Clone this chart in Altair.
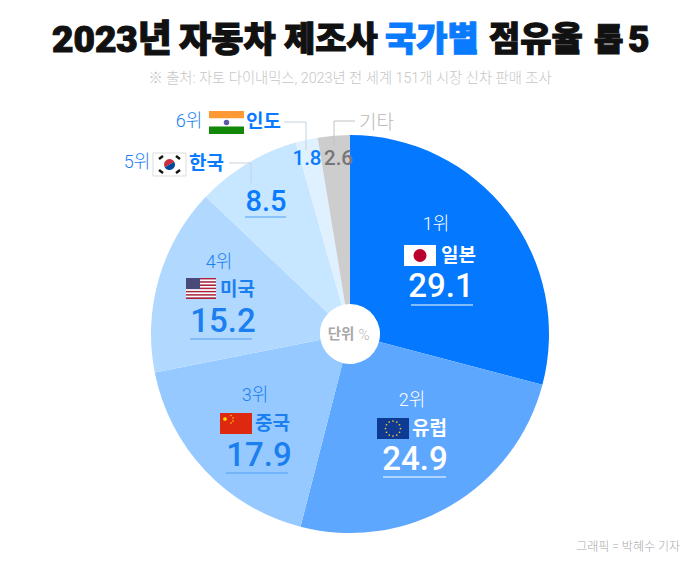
import altair as alt
import pandas as pd
import math

names = ["일본", "유럽", "중국", "미국", "한국", "인도", "기타"]
shares = [29.1, 24.9, 17.9, 15.2, 8.5, 1.8, 2.6]
ranks = ["1위", "2위", "3위", "4위", "5위", "6위", ""]
slice_colors = ["#0478fe", "#5ea7ff", "#96c9ff", "#b1d8ff", "#c7e6ff", "#dff1ff", "#cdcdcd"]
title_words = ["2023년", "자동차", "제조사", "국가별", "점유율", "톱", "5"]
source_note = "※ 출처: 자토 다이내믹스, 2023년 전 세계 151개 시장 신차 판매 조사"
credit = "그래픽 = 박혜수 기자"
unit_word, unit_sign = "단위", "%"

FONT = "Roboto, 'Noto Sans CJK KR'"
BLUE = "#0a7bff"
layers = []


def px(v):
    return alt.value(v - 8)


def txt(t, x, y, size, color, weight=400, align="center", stroke=None, sw=0, font=FONT):
    kw = dict(fontSize=size, font=font, fontWeight=weight, align=align, baseline="middle", color=color)
    if stroke:
        kw.update(stroke=stroke, strokeWidth=sw)
    layers.append(alt.Chart(pd.DataFrame({"a": [0]})).mark_text(**kw).encode(text=alt.value(t), x=px(x), y=px(y)))


def rect(x0, y0, x1, y1, color, **kw):
    layers.append(alt.Chart(pd.DataFrame({"a": [0]})).mark_rect(color=color, **kw).encode(x=px(x0), x2=px(x1), y=px(y0), y2=px(y1)))


def line(x0, y0, x1, y1, color, width=1):
    layers.append(alt.Chart(pd.DataFrame({"a": [0]})).mark_rule(color=color, strokeWidth=width).encode(x=px(x0), x2=px(x1), y=px(y0), y2=px(y1)))


def dot(x, y, size, color, shape="circle"):
    layers.append(alt.Chart(pd.DataFrame({"a": [0]})).mark_point(filled=True, opacity=1, color=color, size=size, shape=shape, strokeWidth=0).encode(x=px(x), y=px(y)))


# pie
pie_df = pd.DataFrame({"name": names, "share": shares, "order": range(len(names))})
layers.append(
    alt.Chart(pie_df).mark_arc(outerRadius=199, innerRadius=30).encode(
        theta=alt.Theta("share:Q", stack=True, scale=alt.Scale(range=[0, 2 * math.pi])),
        order=alt.Order("order:Q"),
        color=alt.Color("name:N", scale=alt.Scale(domain=names, range=slice_colors), legend=None),
        x=px(350), y=px(334),
    )
)

# title, word by word
title_left = [52, 179, 284, 385, 489, 594, 628]
title_size = [37, 35, 34, 34, 34, 32, 37]
for i, (word, left, size) in enumerate(zip(title_words, title_left, title_size)):
    c = BLUE if i == 3 else "#111111"
    txt(word, left, 41, size, c, 900, "left", c, 1.1)
txt(source_note, 350, 79, 14.3, "#c6c6c6", 300)
txt(credit, 680, 547, 12, "#a9a9a9", 300, "right")

# main labels
W = "#ffffff"
M = "#1b7ff0"
NUM = 33
# Japan
txt(ranks[0], 436, 225, 18, W, 300)
rect(404, 245, 436, 266, W)
dot(420, 255.5, 170, "#bc002d")
txt(names[0], 441, 256, 19, W, 700, "left")
txt(str(shares[0]), 441, 287, NUM, W, 500)
line(411, 305, 473, 305, W)
# Europe
txt(ranks[1], 412, 401, 18, W, 300)
rect(377, 418, 409, 439, "#0f3a94")
for i in range(12):
    a = 2 * math.pi * i / 12
    dot(393 + 7.5 * math.cos(a), 428.5 + 7.5 * math.sin(a), 3, "#f3c92a")
txt(names[1], 412, 429, 19, W, 700, "left")
txt(str(shares[1]), 415, 460, NUM, W, 500)
line(383, 477, 446, 477, W)
# China
txt(ranks[2], 255, 396, 18, M, 300)
rect(220, 413, 252, 434, "#de2910")
dot(225, 419, 14, "#ffde00")
for dx, dy in [(231, 415.5), (233, 418), (233, 421), (231, 423)]:
    dot(dx, dy, 2.5, "#ffde00")
txt(names[2], 255, 424, 19, M, 700, "left")
txt(str(shares[2]), 259, 456, NUM, M, 500)
line(226, 473, 288, 473, "#4f9ff5")
# USA
txt(ranks[3], 219, 263, 18, M, 300)
for i in range(13):
    rect(186, 278 + i * 21 / 13, 216, 278 + (i + 1) * 21 / 13, "#b22234" if i % 2 == 0 else "#ffffff")
rect(186, 278, 200, 289, "#4a4a7a")
txt(names[3], 220, 290, 19, M, 700, "left")
txt(str(shares[3]), 223, 322, NUM, M, 500)
line(190, 339, 252, 339, "#4f9ff5")
# Korea
txt(ranks[4], 137, 163, 18, M, 300)
rect(153, 153, 186, 176, W, stroke="#dddddd", strokeWidth=1)
layers.append(alt.Chart(pd.DataFrame({"a": [0]})).mark_arc(color="#cd2e3a", outerRadius=5.5, theta=4.2, theta2=7.35).encode(x=px(169.5), y=px(164.5)))
layers.append(alt.Chart(pd.DataFrame({"a": [0]})).mark_arc(color="#0047a0", outerRadius=5.5, theta=1.06, theta2=4.2).encode(x=px(169.5), y=px(164.5)))
for (x0, y0, x1, y1) in [(159, 159, 163, 156), (176, 156, 180, 159), (159, 170, 163, 173), (176, 173, 180, 170)]:
    line(x0, y0, x1, y1, "#111111", 2.4)
txt(names[4], 189, 164, 19, BLUE, 700, "left")
txt(str(shares[4]), 266, 202, 29, BLUE, 500)
line(245, 217, 286, 217, "#4f9ff5")
line(229, 163, 251, 163, "#c3d3e0")
line(251, 163, 251, 183, "#c3d3e0")
# India
txt(ranks[5], 189, 122, 18, M, 300)
rect(209, 111, 244, 118.5, "#ff9933")
rect(209, 118.5, 244, 126.5, W)
rect(209, 126.5, 244, 134, "#138808")
dot(226.5, 122.5, 30, "#5a5aa8")
txt(names[5], 246, 122, 19, BLUE, 700, "left")
txt(str(shares[5]), 307, 159, 20.5, BLUE, 500)
line(284, 122, 306, 122, "#c3d3e0")
line(306, 122, 306, 150, "#c3d3e0")
# Other
txt(names[6], 359, 123, 19, "#b9b9b9", 300, "left")
txt(str(shares[6]), 338.5, 159, 20.5, "#767676", 500)
line(355, 121, 334, 121, "#c2c2c2")
line(334, 121, 334, 146, "#c2c2c2")
# unit
txt(unit_word, 341, 335, 14.5, "#a8a8a8", 700)
txt(unit_sign, 364, 335, 15, "#b5b5b5", 300)

chart = alt.layer(*layers).properties(
    width=684, height=548, padding=0, autosize="none", background="#ffffff"
).configure_view(stroke=None)
chart.save("out.html", embed_options={"renderer": "svg", "actions": False})
